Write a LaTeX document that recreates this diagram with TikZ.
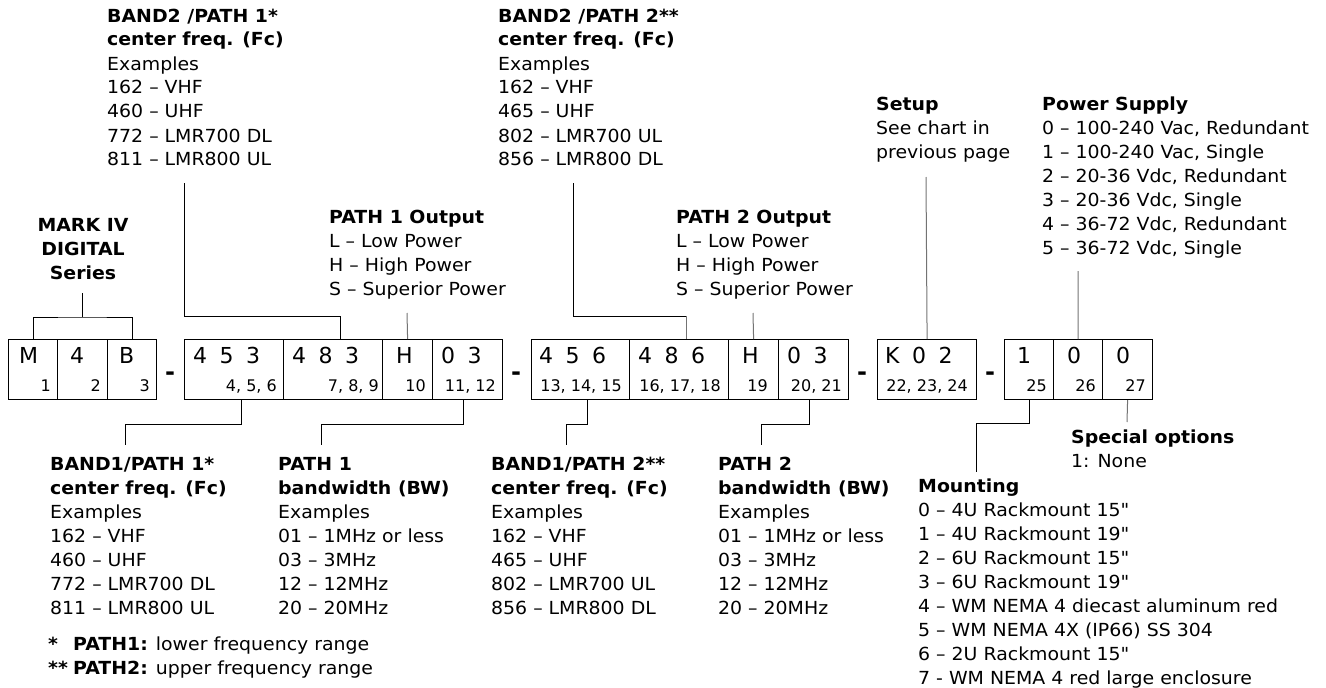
\documentclass[tikz,border=0pt]{standalone}
\usepackage{fontspec}
\newfontfamily\vf{DejaVu Sans}[FakeStretch=1.05]
\newfontfamily\vfb{DejaVu Sans}
\newcommand{\blk}[1]{\begin{tabular}[t]{@{}l@{}}#1\end{tabular}}
\newcommand{\blc}[1]{\begin{tabular}[t]{@{}c@{}}#1\end{tabular}}
\newcommand{\mygap}{\hspace{12.5pt}}
\begin{document}
\begin{tikzpicture}[x=1pt,y=-1pt,
  font=\vf\fontsize{18}{24}\selectfont,
  lbl/.style={inner sep=0, anchor=base west},
  box/.style={draw, line width=1.2pt, inner sep=0, minimum height=60, anchor=north west},
  big/.style={inner sep=0, anchor=base west, font=\vfb\fontsize{22}{26}\selectfont},
  sub/.style={inner sep=0, anchor=base east, font=\vfb\fontsize{16}{20}\selectfont},
  dsh/.style={inner sep=0, anchor=base, font=\vfb\bfseries\fontsize{24}{26}\selectfont},
  con/.style={line width=1pt, draw=black},
  gcon/.style={line width=1pt, draw=black!55}]
\useasboundingbox (0,0) rectangle (1326,688);

% ---------- code boxes ----------
\node[box, minimum width=49] (bM) at (8,339) {};
\node[box, minimum width=50] (b4) at (57,339) {};
\node[box, minimum width=49] (bB) at (107,339) {};
\node[box, minimum width=99] (b453) at (184,339) {};
\node[box, minimum width=99] (b483) at (283,339) {};
\node[box, minimum width=50] (b10) at (382,339) {};
\node[box, minimum width=70] (b1112) at (432,339) {};
\node[box, minimum width=98] (b456) at (531,339) {};
\node[box, minimum width=99] (b486) at (629,339) {};
\node[box, minimum width=50] (b19) at (728,339) {};
\node[box, minimum width=70] (b2021) at (778,339) {};
\node[box, minimum width=99] (bK) at (877,339) {};
\node[box, minimum width=49] (b25) at (1004,339) {};
\node[box, minimum width=49] (b26) at (1053,339) {};
\node[box, minimum width=50] (b27) at (1102,339) {};

% big characters
\node[big] (cM) at (19,363) {M};
\node[big] (c4) at (70,363) {4};
\node[big] (cB) at (119,363) {B};
\node[big] (c453) at (193,363) {4\mygap5\mygap3};
\node[big] (c483) at (292,363) {4\mygap8\mygap3};
\node[big] (c10) at (396,363) {H};
\node[big] (c1112) at (441,363) {0\mygap3};
\node[big] (c456) at (539,363) {4\mygap5\mygap6};
\node[big] (c486) at (638,363) {4\mygap8\mygap6};
\node[big] (c19) at (742,363) {H};
\node[big] (c2021) at (787,363) {0\mygap3};
\node[big] (cK) at (885,363) {K\mygap0\mygap2};
\node[big] (c25) at (1017,363) {1};
\node[big] (c26) at (1067,363) {0};
\node[big] (c27) at (1116,363) {0};

% position numbers
\node[sub] (nM) at (51,391) {1};
\node[sub] (n4) at (101,391) {2};
\node[sub] (nB) at (150,391) {3};
\node[sub] (n453) at (277,391) {4, 5, 6};
\node[sub] (n483) at (379,391) {7, 8, 9};
\node[sub] (n10) at (426,391) {10};
\node[sub] (n1112) at (496,391) {11, 12};
\node[sub] (n456) at (622,391) {13, 14, 15};
\node[sub] (n486) at (721,391) {16, 17, 18};
\node[sub] (n19) at (768,391) {19};
\node[sub] (n2021) at (842,391) {20, 21};
\node[sub] (nK) at (968,391) {22, 23, 24};
\node[sub] (n25) at (1047,391) {25};
\node[sub] (n26) at (1096,391) {26};
\node[sub] (n27) at (1146,391) {27};

% separators
\node[dsh] (h1) at (170,380) {-};
\node[dsh] (h2) at (516,380) {-};
\node[dsh] (h3) at (862,380) {-};
\node[dsh] (h4) at (990,380) {-};

% ---------- upper texts ----------
\node[lbl] (t1) at (107,22) {\blk{\bfseries BAND2 /PATH 1*\\ \bfseries center freq. (Fc)\\ Examples\\ 162 – VHF\\ 460 – UHF\\ 772 – LMR700 DL\\ 811 – LMR800 UL}};
\node[lbl] (t2) at (498,22) {\blk{\bfseries BAND2 /PATH 2**\\ \bfseries center freq. (Fc)\\ Examples\\ 162 – VHF\\ 465 – UHF\\ 802 – LMR700 UL\\ 856 – LMR800 DL}};
\node[inner sep=0, anchor=base] (tm) at (83,231) {\blc{\bfseries MARK IV\\ \bfseries DIGITAL\\ \bfseries Series}};
\node[lbl] (tp1) at (329,223) {\blk{\bfseries PATH 1 Output\\ L – Low Power\\ H – High Power\\ S – Superior Power}};
\node[lbl] (tp2) at (676,223) {\blk{\bfseries PATH 2 Output\\ L – Low Power\\ H – High Power\\ S – Superior Power}};
\node[lbl] (tsu) at (876,110) {\blk{\bfseries Setup\\ See chart in\\ previous page}};
\node[lbl] (tps) at (1042,110) {\blk{\bfseries Power Supply\\ 0 – 100-240 Vac, Redundant\\ 1 – 100-240 Vac, Single\\ 2 – 20-36 Vdc, Redundant\\ 3 – 20-36 Vdc, Single\\ 4 – 36-72 Vdc, Redundant\\ 5 – 36-72 Vdc, Single}};

% ---------- lower texts ----------
\node[lbl] (l1) at (50,470) {\blk{\bfseries BAND1/PATH 1*\\ \bfseries center freq. (Fc)\\ Examples\\ 162 – VHF\\ 460 – UHF\\ 772 – LMR700 DL\\ 811 – LMR800 UL}};
\node[lbl] (l2) at (278,470) {\blk{\bfseries PATH 1\\ \bfseries bandwidth (BW)\\ Examples\\ 01 – 1MHz or less\\ 03 – 3MHz\\ 12 – 12MHz\\ 20 – 20MHz}};
\node[lbl] (l3) at (491,470) {\blk{\bfseries BAND1/PATH 2**\\ \bfseries center freq. (Fc)\\ Examples\\ 162 – VHF\\ 465 – UHF\\ 802 – LMR700 UL\\ 856 – LMR800 DL}};
\node[lbl] (l4) at (718,470) {\blk{\bfseries PATH 2\\ \bfseries bandwidth (BW)\\ Examples\\ 01 – 1MHz or less\\ 03 – 3MHz\\ 12 – 12MHz\\ 20 – 20MHz}};
\node[lbl] (fn) at (48,650) {\begin{tabular}[t]{@{}p{25pt}@{}l@{}}\bfseries * & \textbf{PATH1:}\hspace{8pt}lower frequency range\\ \bfseries ** & \textbf{PATH2:}\hspace{8pt}upper frequency range\end{tabular}};
\node[lbl] (tsp) at (1071,443) {\blk{\bfseries Special options\\ 1: None}};
\node[lbl] (tmo) at (918,492) {\blk{\bfseries Mounting\\ 0 – 4U Rackmount 15"\\ 1 – 4U Rackmount 19"\\ 2 – 6U Rackmount 15"\\ 3 – 6U Rackmount 19"\\ 4 – WM NEMA 4 diecast aluminum red\\ 5 – WM NEMA 4X (IP66) SS 304\\ 6 – 2U Rackmount 15"\\ 7 - WM NEMA 4 red large enclosure}};

% ---------- connectors ----------
\coordinate (mtop) at (82,293);
\coordinate (mbr) at (82,317);
\draw[con] (mtop) -- (mbr);
\draw[con] (bM.north) |- (mbr) -| (bB.north);

\coordinate (u1) at (184,183);
\coordinate (e1) at (340,316);
\draw[con] (u1) |- (e1) -- (e1 |- b483.north);

\coordinate (s1) at (407,313);
\draw[gcon] (s1) -- (b10.north);

\coordinate (u2) at (573,183);
\coordinate (e2) at (686,316);
\draw[con] (u2) |- (e2);
\draw[gcon] (e2) -- (e2 |- b486.north);

\coordinate (s2) at (753,313);
\draw[gcon] (s2) -- (b19.north);
\coordinate (s3) at (926,177);
\draw[gcon] (s3) -- (bK.north);
\coordinate (s4) at (1078,271);
\draw[gcon] (s4) -- (b26.north);

\coordinate (d1) at (125,445);
\coordinate (d2) at (321,445);
\coordinate (d3) at (566,445);
\coordinate (d4) at (761,445);
\coordinate (d5) at (976,472);
\coordinate (d6) at (1127,422);
\draw[con] ([xshift=7.5pt]b453.south) -- ++(0,24) -| (d1);
\draw[con] ([xshift=-4pt]b1112.south) -- ++(0,24) -| (d2);
\draw[con] ([xshift=7pt]b456.south) -- ++(0,24) -| (d3);
\draw[con] ([xshift=-4pt]b2021.south) -- ++(0,24) -| (d4);
\draw[con] (b25.south) -- ++(0,23) -| (d5);
\draw[gcon] (b27.south) -- (d6);
\end{tikzpicture}
\end{document}
